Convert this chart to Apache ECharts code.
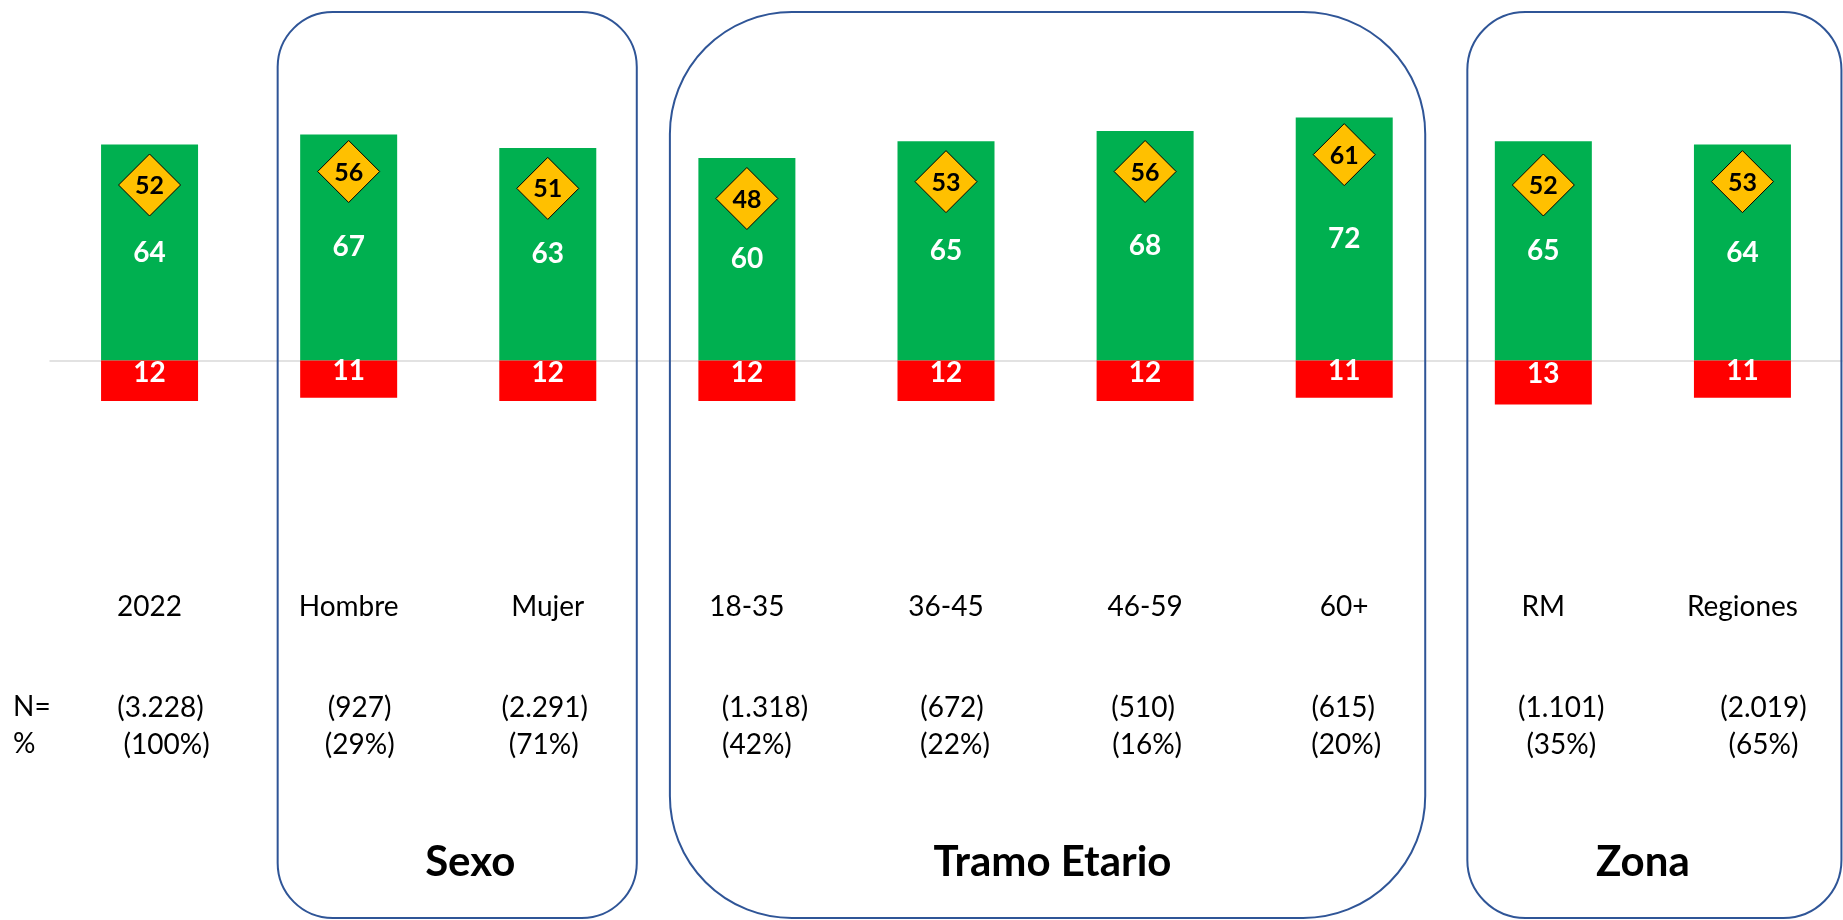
<!DOCTYPE html>
<html>
<head>
<meta charset="utf-8">
<style>
  html, body { margin: 0; padding: 0; background: #fff; }
  #chart { width: 1843px; height: 920px; }
</style>
<script src="https://cdn.jsdelivr.net/npm/echarts@6/dist/echarts.min.js"></script>
</head>
<body>
<div id="chart"></div>
<script>
// Segments shown along the axis
const categories = ['2022', 'Hombre', 'Mujer', '18-35', '36-45', '46-59', '60+', 'RM', 'Regiones'];
// Positive share (green bar, above zero)
const positive = [64, 67, 63, 60, 65, 68, 72, 65, 64];
// Negative share (red bar, below zero)
const negative = [12, 11, 12, 12, 12, 12, 11, 13, 11];
// Index value (yellow diamond)
const indexValue = [52, 56, 51, 48, 53, 56, 61, 52, 53];
// Sample size and share of total for each segment
const sampleN = ['(3.228)', '(927)', '(2.291)', '(1.318)', '(672)', '(510)', '(615)', '(1.101)', '(2.019)'];
const sampleShare = ['(100%)', '(29%)', '(71%)', '(42%)', '(22%)', '(16%)', '(20%)', '(35%)', '(65%)'];
// Segment groups framed by rounded boxes
const groupNames = ['Sexo', 'Tramo Etario', 'Zona'];
const groupFirst = ['Hombre', '18-35', 'RM'];
const groupLast = ['Mujer', '60+', 'Regiones'];

// Layout tweaks (pixels)
const nShift = [11, 11, -3, 18, 6, -2, -1, 18, 21];
const pctShift = [17, 11, -4, 10, 9, 2, 2, 18, 21];
const boxPadLeft = [71, 77, 76];
const boxPadRight = [89, 81, 99];
const boxRadius = [55, 122, 58];
const titleShift = [22, 7, 0];

const FONT = 'Lato, "Open Sans", sans-serif';

const chart = echarts.init(document.getElementById('chart'), null, { renderer: 'canvas' });

chart.setOption({
  animation: false,
  backgroundColor: '#ffffff',
  grid: { left: 50, right: 1, top: 23, bottom: 222, containLabel: false, outerBoundsMode: 'none' },
  xAxis: {
    type: 'category',
    data: categories,
    axisLine: { show: true, onZero: true, lineStyle: { color: '#D9D9D9', width: 1.5 } },
    axisTick: { show: false },
    axisLabel: { show: false },
    splitLine: { show: false }
  },
  yAxis: {
    type: 'value',
    min: -100,
    max: 100,
    interval: 50,
    axisLine: { show: false },
    axisTick: { show: false },
    axisLabel: { show: false },
    splitLine: { show: false }
  },
  series: [
    {
      name: 'Positivo',
      type: 'bar',
      stack: 'total',
      barWidth: 97,
      data: positive,
      itemStyle: { color: '#00B050' },
      label: {
        show: true,
        position: 'inside',
        color: '#fff',
        fontFamily: FONT,
        fontWeight: 'bold',
        fontSize: 28
      },
      z: 2
    },
    {
      name: 'Negativo',
      type: 'bar',
      stack: 'total',
      barWidth: 97,
      data: negative.map(v => -v),
      itemStyle: { color: '#FF0000' },
      label: {
        show: true,
        position: 'inside',
        offset: [0, -8],
        formatter: p => Math.abs(p.value),
        color: '#fff',
        fontFamily: FONT,
        fontWeight: 'bold',
        fontSize: 28
      },
      z: 2
    },
    {
      name: 'Índice',
      type: 'scatter',
      data: indexValue,
      symbol: 'diamond',
      symbolSize: [62, 62],
      itemStyle: { color: '#FFC000', borderColor: '#000', borderWidth: 1, opacity: 1 },
      label: {
        show: true,
        position: 'inside',
        offset: [0, 1],
        color: '#000',
        fontFamily: FONT,
        fontWeight: 'bold',
        fontSize: 25
      },
      z: 5
    }
  ]
});

// Texts and frames placed from the category axis positions
const xOf = c => chart.convertToPixel({ xAxisIndex: 0 }, c);
const graphics = [];

graphics.push({
  type: 'text', left: 13, top: 693,
  style: { text: 'N=', fontFamily: FONT, fontSize: 28, fill: '#000' }
});
graphics.push({
  type: 'text', left: 13, top: 730,
  style: { text: '%', fontFamily: FONT, fontSize: 28, fill: '#000' }
});

categories.forEach((c, i) => {
  const x = xOf(c);
  graphics.push({
    type: 'text', x: x, y: 607,
    style: { text: c, fontFamily: FONT, fontSize: 28, fill: '#000', align: 'center', verticalAlign: 'middle' }
  });
  graphics.push({
    type: 'text', x: x + nShift[i], y: 708,
    style: { text: sampleN[i], fontFamily: FONT, fontSize: 28, fill: '#000', align: 'center', verticalAlign: 'middle' }
  });
  graphics.push({
    type: 'text', x: x + pctShift[i], y: 745,
    style: { text: sampleShare[i], fontFamily: FONT, fontSize: 28, fill: '#000', align: 'center', verticalAlign: 'middle' }
  });
});

groupNames.forEach((g, i) => {
  const x0 = xOf(groupFirst[i]) - boxPadLeft[i];
  const x1 = xOf(groupLast[i]) + boxPadRight[i];
  graphics.push({
    type: 'rect',
    shape: { x: x0, y: 12, width: x1 - x0, height: 906, r: boxRadius[i] },
    style: { fill: 'none', stroke: '#2F5597', lineWidth: 2 },
    z: 10
  });
  const mid = (xOf(groupFirst[i]) + xOf(groupLast[i])) / 2 + titleShift[i];
  graphics.push({
    type: 'text', x: mid, y: 862,
    style: { text: g, fontFamily: FONT, fontWeight: 'bold', fontSize: 42, fill: '#000', align: 'center', verticalAlign: 'middle' },
    z: 10
  });
});

chart.setOption({ graphic: graphics });
</script>
</body>
</html>
